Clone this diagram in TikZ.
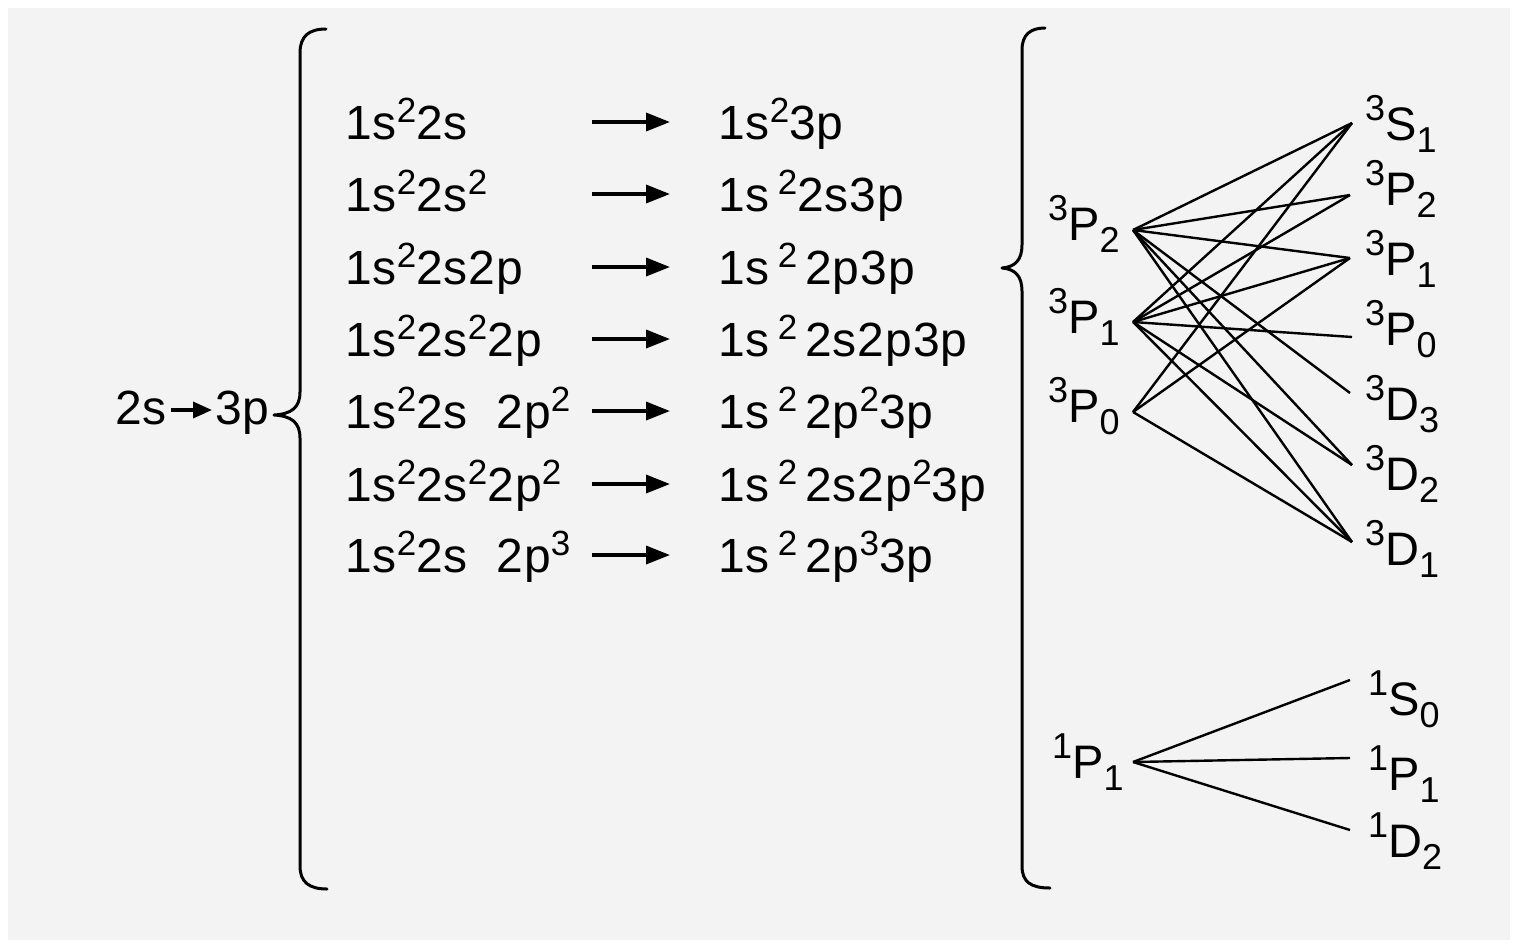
\documentclass[tikz,border=0pt]{standalone}
\usepackage{fontspec}
\setmainfont[LetterSpace=2]{Liberation Sans}
\usetikzlibrary{arrows.meta}

\definecolor{paper}{RGB}{243,243,243}

%% superscripts / subscripts in the configurations and term symbols
\newcommand{\up}[1]{\raisebox{17pt}{\fontsize{35}{35}\selectfont #1}}
\newcommand{\tsup}[1]{\raisebox{20pt}{\fontsize{36}{36}\selectfont #1}}
\newcommand{\tsub}[1]{\raisebox{-12pt}{\fontsize{36}{36}\selectfont #1}}
\newcommand{\term}[3]{\tsup{#1}#2\tsub{#3}}

\tikzset{
  conf/.style={anchor=base west, inner sep=0pt, font=\fontsize{48}{52}\selectfont},
  termlbl/.style={anchor=base west, inner sep=0pt, font=\fontsize{47}{50}\selectfont},
  arr/.style={line width=3.5pt, -{Triangle[length=24pt,width=18pt]}},
  level/.style={line width=2.4pt},
  brace/.style={line width=3pt, line cap=round}
}

\begin{document}
\begin{tikzpicture}[x=1pt, y=-1pt, line join=round]

  %% ==== page ====
  \fill[white] (0,0) rectangle (1516,946);
  \fill[paper] (8,8) rectangle (1510,940);

  %% ==== 2s -> 3p ====
  \node[conf] (s2) at (115,424) {2s};
  \node[conf] (p3) at (215,424) {3p};
  \coordinate (t0) at (171,410);
  \coordinate (t1) at (212,410);
  \draw[line width=3.5pt, -{Triangle[length=19pt,width=16pt]}] (t0) -- (t1);

  %% ==== left brace ====
  \draw[brace] (326,29) .. controls (309,29) and (300,36) .. (300,53)
    -- (300,392) .. controls (300,408) and (291,414) .. (274,415)
    .. controls (291,416) and (300,422) .. (300,438)
    -- (300,866) .. controls (300,882) and (309,889) .. (327,889);

  %% ==== configurations ====
  \foreach \y/\l/\r [count=\i] in {
      139/{1s\up{2}2s}/{1s\up{2}3p},
      211/{1s\up{2}2s\up{2}}/{1s\,\up{2}2s3p},
      284/{1s\up{2}2s2p}/{1s\,\up{2}\,2p3p},
      356/{1s\up{2}2s\up{2}2p}/{1s\,\up{2}\,2s2p3p},
      428/{1s\up{2}2s\ \ 2p\up{2}}/{1s\,\up{2}\,2p\up{2}3p},
      501/{1s\up{2}2s\up{2}2p\up{2}}/{1s\,\up{2}\,2s2p\up{2}3p},
      572/{1s\up{2}2s\ \ 2p\up{3}}/{1s\,\up{2}\,2p\up{3}3p}} {
    \node[conf] (l\i) at (345,\y) {\l};
    \node[conf] (r\i) at (718,\y) {\r};
    \coordinate (a\i) at (592,\y-17);
    \coordinate (b\i) at (670,\y-17);
    \draw[arr] (a\i) -- (b\i);
  }

  %% ==== right brace ====
  \draw[brace] (1045,28) .. controls (1030,28) and (1022,35) .. (1022,50)
    -- (1022,245) .. controls (1022,260) and (1015,267) .. (1002,268)
    .. controls (1015,269) and (1022,276) .. (1022,291)
    -- (1022,866) .. controls (1022,882) and (1031,888) .. (1050,888);

  %% ==== terms ====
  \node[termlbl] (tP2) at (1048,240) {\term{3}{P}{2}};
  \node[termlbl] (tP1) at (1048,333) {\term{3}{P}{1}};
  \node[termlbl] (tP0) at (1048,422) {\term{3}{P}{0}};
  \node[termlbl] (sP1) at (1052,778) {\term{1}{P}{1}};

  \node[termlbl] (uS1) at (1365,140) {\term{3}{S}{1}};
  \node[termlbl] (uP2) at (1365,205) {\term{3}{P}{2}};
  \node[termlbl] (uP1) at (1365,275) {\term{3}{P}{1}};
  \node[termlbl] (uP0) at (1365,345) {\term{3}{P}{0}};
  \node[termlbl] (uD3) at (1365,420) {\term{3}{D}{3}};
  \node[termlbl] (uD2) at (1365,490) {\term{3}{D}{2}};
  \node[termlbl] (uD1) at (1365,565) {\term{3}{D}{1}};
  \node[termlbl] (vS0) at (1368,715) {\term{1}{S}{0}};
  \node[termlbl] (vP1) at (1368,790) {\term{1}{P}{1}};
  \node[termlbl] (vD2) at (1368,857) {\term{1}{D}{2}};

  %% line ends
  \coordinate (p2) at (1133,230);
  \coordinate (p1) at (1133,322);
  \coordinate (p0) at (1133,412);
  \coordinate (q1) at (1133,762);
  \coordinate (S1) at (1352,123);
  \coordinate (P2) at (1350,195);
  \coordinate (P1) at (1350,258);
  \coordinate (P0) at (1352,337);
  \coordinate (D3) at (1350,393);
  \coordinate (D2) at (1352,465);
  \coordinate (D1) at (1352,542);
  \coordinate (S0) at (1350,680);
  \coordinate (Q1) at (1350,758);
  \coordinate (E2) at (1350,830);

  %% ==== transitions ====
  \foreach \a/\b in {p2/S1, p2/P2, p2/P1, p2/D3, p2/D2, p2/D1,
                     p1/S1, p1/P2, p1/P1, p1/P0, p1/D2, p1/D1,
                     p0/S1, p0/P1, p0/D1,
                     q1/S0, q1/Q1, q1/E2}
    \draw[level] (\a) -- (\b);

  \pgfresetboundingbox
  \path[use as bounding box] (0,0) rectangle (1516,946);
\end{tikzpicture}
\end{document}
